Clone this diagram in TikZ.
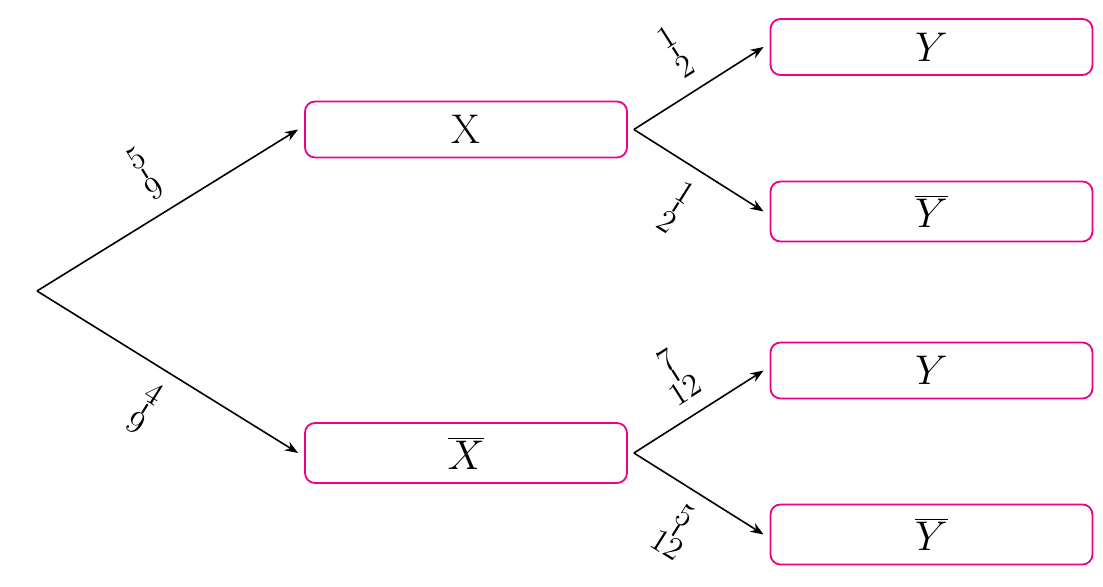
\documentclass[tikz,border=0pt]{standalone}
\usepackage{graphicx}
\usetikzlibrary{arrows.meta}
\definecolor{boxpink}{RGB}{236,0,140}

% Fraction whose bar is set upright in the gap between numerator and denominator.
\newcommand\sidefrac[2]{%
  \scalebox{1.12}{%
  \sbox0{$\scriptstyle #1$}\sbox2{$\scriptstyle #2$}%
  \dimen0=\ifdim\wd0>\wd2 \wd0\else\wd2\fi
  \dimen0=0.65\dimen0
  \ifdim\dimen0>0.27em \dimen0=0.27em\fi
  \sbox4{\textcolor{white}{$\frac{\textcolor{black}{#1}}{\textcolor{black}{#2}}$}}%
  \rlap{\usebox4}%
  \hbox to \wd4{\hfil\raisebox{\dimexpr 0.25em-0.5\dimen0\relax}{\rule{0.045em}{\dimen0}}\hfil}}}

\begin{document}
\begin{tikzpicture}[x=0.5pt,y=-0.5pt,
  leaf/.style={draw=boxpink, line width=0.9pt, rounded corners=5pt,
    minimum width=161pt},
  branch/.style={line width=0.8pt, -{Stealth}},
  prob/.style={sloped, midway}]
\huge
\useasboundingbox (0,0) rectangle (1103,587);

\coordinate (root) at (37,291);
\node[leaf] (X)   at (466,129.5) {X};
\node[leaf] (Xb)  at (466,453)   {$\overline{X}$};
\node[leaf] (Y1)  at (931.5,47)    {$Y$};
\node[leaf] (Yb1) at (931.5,211.5) {$\overline{Y}$};
\node[leaf] (Y2)  at (931.5,370.5) {$Y$};
\node[leaf] (Yb2) at (931.5,534.5) {$\overline{Y}$};

% first stage
\draw[branch] (root) -- ([xshift=-3pt]X.west)  node[prob,above=0.5pt]{\sidefrac{5}{9}};
\draw[branch] (root) -- ([xshift=-3pt]Xb.west) node[prob,below=0.5pt]{\sidefrac{4}{9}};

% second stage
\draw[branch] ([xshift=3pt]X.east) -- ([xshift=-3pt]Y1.west)  node[prob,above=0.5pt]{\sidefrac{1}{2}};
\draw[branch] ([xshift=3pt]X.east) -- ([xshift=-3pt]Yb1.west) node[prob,below=0.5pt]{\sidefrac{1}{2}};
\draw[branch] ([xshift=3pt]Xb.east) -- ([xshift=-3pt]Y2.west)  node[prob,above=0.5pt]{\sidefrac{7}{12}};
\draw[branch] ([xshift=3pt]Xb.east) -- ([xshift=-3pt]Yb2.west) node[prob,below=0.5pt]{\sidefrac{5}{12}};
\end{tikzpicture}
\end{document}
